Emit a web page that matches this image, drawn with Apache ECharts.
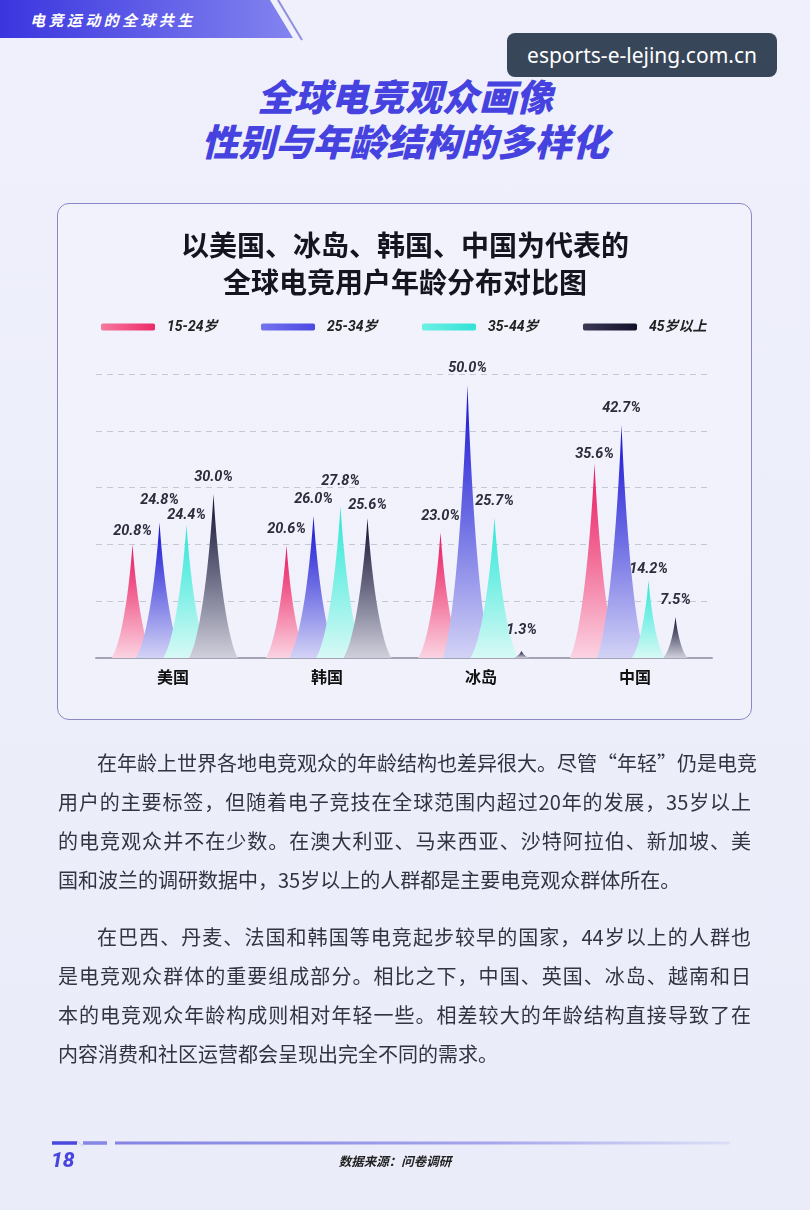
<!DOCTYPE html>
<html>
<head>
<meta charset="utf-8">
<script src="https://cdn.jsdelivr.net/npm/echarts@6/dist/echarts.min.js"></script>
<style>
  html,body{margin:0;padding:0;}
  body{width:810px;height:1210px;position:relative;overflow:hidden;
    background:linear-gradient(180deg,#eff0fb 0%,#eceefa 55%,#eaecf9 100%);
    font-family:"Noto Sans CJK SC","Noto Sans",sans-serif;}
  .abs{position:absolute;}
  #banner{left:0;top:0;}
  #bannerText{left:30px;top:8px;color:#fff;font-size:15px;font-weight:700;letter-spacing:3.4px;line-height:24px;font-style:italic;}
  #wm{left:507px;top:33px;width:270px;height:44px;background:#384659;border-radius:8px;color:#fff;
    font-family:"Noto Sans","Open Sans",sans-serif;font-size:21px;line-height:44px;text-align:center;}
  .mainTitle{left:0;width:810px;text-align:center;color:#4542df;font-size:37px;font-weight:900;font-style:italic;line-height:45px;}
  #card{left:57px;top:203px;width:693px;height:515px;border:1.6px solid #8c88c6;border-radius:12px;background:rgba(255,255,255,0.22);}
  #chart{left:0;top:0;width:810px;height:1210px;}
  .para{left:58px;width:693px;color:#333344;font-size:20px;line-height:39px;}
  .ln{text-align:justify;text-align-last:justify;white-space:nowrap;height:39px;}
  .ln.last{text-align-last:left;}
  .ln.ind{padding-left:39px;}
  #pg{left:51px;top:1147px;color:#4844de;font-size:21px;font-weight:800;font-style:italic;font-family:Roboto,"Noto Sans",sans-serif;line-height:26px;}
  #src{left:0;width:790px;top:1152px;text-align:center;color:#222;font-size:12.5px;font-weight:700;font-style:italic;line-height:18px;}
</style>
</head>
<body>
<svg id="banner" class="abs" width="330" height="50">
  <defs>
    <linearGradient id="bg1" x1="0" y1="0" x2="1" y2="0">
      <stop offset="0" stop-color="#3a35df"/>
      <stop offset="1" stop-color="#8384ef"/>
    </linearGradient>
  </defs>
  <polygon points="0,0 270,0 293,38 0,38" fill="url(#bg1)"/>
  <line x1="278" y1="0" x2="302" y2="40" stroke="#8f8fe0" stroke-width="2"/>
</svg>
<div id="bannerText" class="abs">电竞运动的全球共生</div>
<div id="wm" class="abs">esports-e-lejing.com.cn</div>
<div class="abs mainTitle" style="top:73px;">全球电竞观众画像</div>
<div class="abs mainTitle" style="top:118px;">性别与年龄结构的多样化</div>
<div id="card" class="abs"></div>
<div id="chart" class="abs"></div>
<div class="abs para" style="top:743px;">
  <div class="ln ind">在年龄上世界各地电竞观众的年龄结构也差异很大。尽管“年轻”仍是电竞</div>
  <div class="ln">用户的主要标签，但随着电子竞技在全球范围内超过20年的发展，35岁以上</div>
  <div class="ln">的电竞观众并不在少数。在澳大利亚、马来西亚、沙特阿拉伯、新加坡、美</div>
  <div class="ln last">国和波兰的调研数据中，35岁以上的人群都是主要电竞观众群体所在。</div>
</div>
<div class="abs para" style="top:917px;">
  <div class="ln ind">在巴西、丹麦、法国和韩国等电竞起步较早的国家，44岁以上的人群也</div>
  <div class="ln">是电竞观众群体的重要组成部分。相比之下，中国、英国、冰岛、越南和日</div>
  <div class="ln">本的电竞观众年龄构成则相对年轻一些。相差较大的年龄结构直接导致了在</div>
  <div class="ln last">内容消费和社区运营都会呈现出完全不同的需求。</div>
</div>
<svg class="abs" style="left:0;top:1136px;" width="810" height="12">
  <defs>
    <linearGradient id="fl" gradientUnits="userSpaceOnUse" x1="115" y1="0" x2="730" y2="0">
      <stop offset="0" stop-color="#8482e4"/>
      <stop offset="0.6" stop-color="#a3a4ea"/>
      <stop offset="1" stop-color="#dcdff6"/>
    </linearGradient>
  </defs>
  <line x1="52" y1="7" x2="77" y2="7" stroke="#4b48de" stroke-width="3.5"/>
  <line x1="77" y1="5" x2="83" y2="10" stroke="#c8c8ee" stroke-width="1"/>
  <line x1="83" y1="7" x2="107" y2="7" stroke="#8586e6" stroke-width="3.5"/>
  <rect x="115" y="5.5" width="615" height="3" fill="url(#fl)"/>
</svg>
<div id="pg" class="abs">18</div>
<div id="src" class="abs">数据来源：问卷调研</div>
<script>
const categories = ['美国', '韩国', '冰岛', '中国'];
const seriesNames = ['15-24岁', '25-34岁', '35-44岁', '45岁以上'];
const age15_24 = [20.8, 20.6, 23.0, 35.6];
const age25_34 = [24.8, 26.0, 50.0, 42.7];
const age35_44 = [24.4, 27.8, 25.7, 14.2];
const age45plus = [30.0, 25.6, 1.3, 7.5];
const seriesValues = [age15_24, age25_34, age35_44, age45plus];

const topColors = ['#e8175f', '#1512d2', '#2fe6d6', '#121230'];
const midColors = ['#f2709a', '#6e6ee4', '#7ef0e6', '#6a6a84'];
const botColors = ['#fbd3e2', '#d3d3f6', '#d8f9f5', '#d0d0dc'];
const legendLeft = ['#f7799e', '#7473ee', '#6cf0e4', '#3a3a58'];
const legendRight = ['#ec2a68', '#4b49e2', '#33e2d4', '#101028'];

// vertical label nudges in px per [series][category] (style only, keeps labels apart)
const labelNudge = [
  [3, 0, 0, 7],
  [-6, 0, 0, 0],
  [7, -8, 0, 5],
  [0, 4, -4, 0]
];

const spikePath = 'path://M0,10 C2,9 4,5 5,0 C6,5 8,9 10,10 Z';
function spikeWidth(v) { return Math.min(49, 15 + v * 1.3); }

const chart = echarts.init(document.getElementById('chart'), null, {renderer: 'canvas'});
const grad = (i) => new echarts.graphic.LinearGradient(0, 0, 0, 1, [
  {offset: 0, color: topColors[i]},
  {offset: 0.5, color: midColors[i]},
  {offset: 1, color: botColors[i]}
]);
const legendStarts = [101, 261, 422, 583];

const option = {
  backgroundColor: 'transparent',
  animation: false,
  title: {
    text: '以美国、冰岛、韩国、中国为代表的\n全球电竞用户年龄分布对比图',
    left: 'center', top: 222,
    textStyle: {fontSize: 28, fontWeight: 'bold', color: '#151520', lineHeight: 37,
      fontFamily: '"Noto Sans CJK SC", sans-serif'}
  },
  legend: seriesNames.map((n, i) => ({
    left: legendStarts[i], top: 318, padding: 0,
    icon: 'roundRect', itemWidth: 54, itemHeight: 7,
    data: [{name: n, itemStyle: {color: new echarts.graphic.LinearGradient(0, 0, 1, 0, [
      {offset: 0, color: legendLeft[i]}, {offset: 1, color: legendRight[i]}])}}],
    textStyle: {fontSize: 14, fontStyle: 'italic', fontWeight: 'bold', color: '#222',
      fontFamily: 'Roboto, "Noto Sans CJK SC", sans-serif', padding: [0, 0, 0, 7], lineHeight: 18}
  })),
  grid: {left: 96, right: 98, top: 374, bottom: 552, containLabel: false},
  xAxis: {
    type: 'category', data: categories,
    axisLine: {lineStyle: {color: '#a3a3b6', width: 2}},
    axisTick: {show: false},
    axisLabel: {fontSize: 16, fontWeight: 'bold', color: '#111', margin: 11,
      fontFamily: '"Noto Sans CJK SC", sans-serif'}
  },
  yAxis: {
    type: 'value', min: 0, max: 52, interval: 10.4,
    axisLabel: {show: false}, axisLine: {show: false}, axisTick: {show: false},
    splitLine: {lineStyle: {color: '#c6c6d4', type: [6, 5], width: 1}}
  },
  series: seriesNames.map((n, i) => ({
    name: n, type: 'pictorialBar',
    barWidth: 27, barGap: '0%',
    symbol: spikePath, symbolRepeat: false,
    itemStyle: {color: grad(i)},
    label: {show: true, position: 'top', distance: 9,
      formatter: (p) => p.value.toFixed(1) + '%',
      fontSize: 14.5, fontStyle: 'italic', fontWeight: 'bold', color: '#2c2c3c',
      fontFamily: 'Roboto, sans-serif'},
    data: seriesValues[i].map((v, j) => ({
      value: v,
      symbolSize: [spikeWidth(v), '100%'],
      label: {offset: [0, labelNudge[i][j]]}
    }))
  }))
};
chart.setOption(option);
</script>
</body>
</html>
